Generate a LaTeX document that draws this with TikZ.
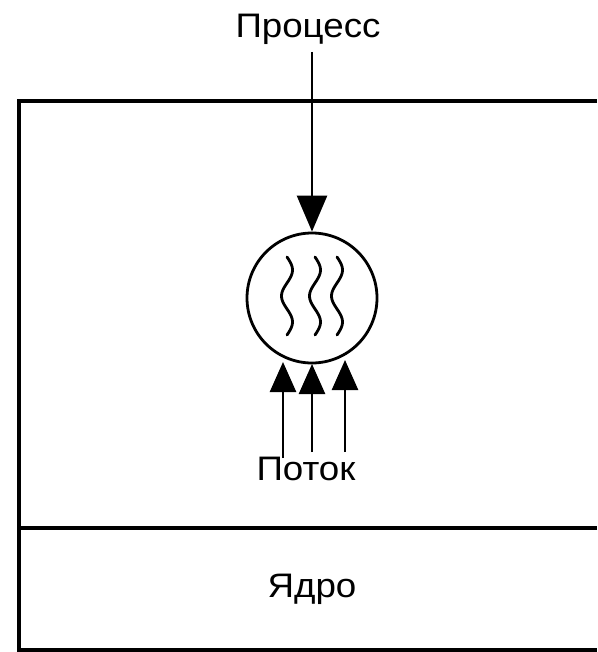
\documentclass[tikz,border=0pt]{standalone}
\usepackage{fontspec}
\setmainfont{Liberation Sans}
\usetikzlibrary{arrows.meta}
\begin{document}
\begin{tikzpicture}[x=1pt,y=-1pt,
  lbl/.style={font=\fontsize{34}{34}\selectfont, inner sep=0pt, anchor=base, xscale=1.08},
  frame/.style={line width=3.2pt},
  arr/.style={line width=2.6pt, -{Triangle[length=36pt,width=30pt]}},
  uparr/.style={line width=2.6pt, -{Triangle[length=30pt,width=26pt]}},
  wave/.style={line width=2.8pt}]
\useasboundingbox (0,0) rectangle (597,652);
% frame
\coordinate (tl) at (19,101);
\coordinate (tr) at (597,101);
\coordinate (ml) at (19,528);
\coordinate (mr) at (597,528);
\coordinate (bl) at (19,650);
\coordinate (br) at (597,650);
\draw[frame] (tr) -- (tl) -- (bl) -- (br);
\draw[frame] (ml) -- (mr);
% labels
\node[lbl] (proc) at (308,38) {Процесс};
\node[lbl] (potok) at (306,480) {Поток};
\node[lbl] (yadro) at (312,597) {Ядро};
% circle
\node[draw, circle, line width=2.8pt, minimum size=130pt, inner sep=0pt] (thr) at (312,298) {};
% down arrow
\coordinate (ds) at (312,52);
\draw[arr] (ds) -- (thr.north);
% up arrows
\coordinate (u1s) at (283,458);
\coordinate (u1e) at (283,362);
\coordinate (u2s) at (312,452);
\coordinate (u2e) at (312,364);
\coordinate (u3s) at (345,452);
\coordinate (u3e) at (345,360);
\draw[uparr] (u1s) -- (u1e);
\draw[uparr] (u2s) -- (u2e);
\draw[uparr] (u3s) -- (u3e);
% waves
\foreach \cx in {287,315,337}{
  \draw[wave, line cap=round] plot[domain=0:1, samples=40, smooth] ({\cx + 5.5*sin(\x*540)}, {257 + 78*\x});
}
\end{tikzpicture}
\end{document}
